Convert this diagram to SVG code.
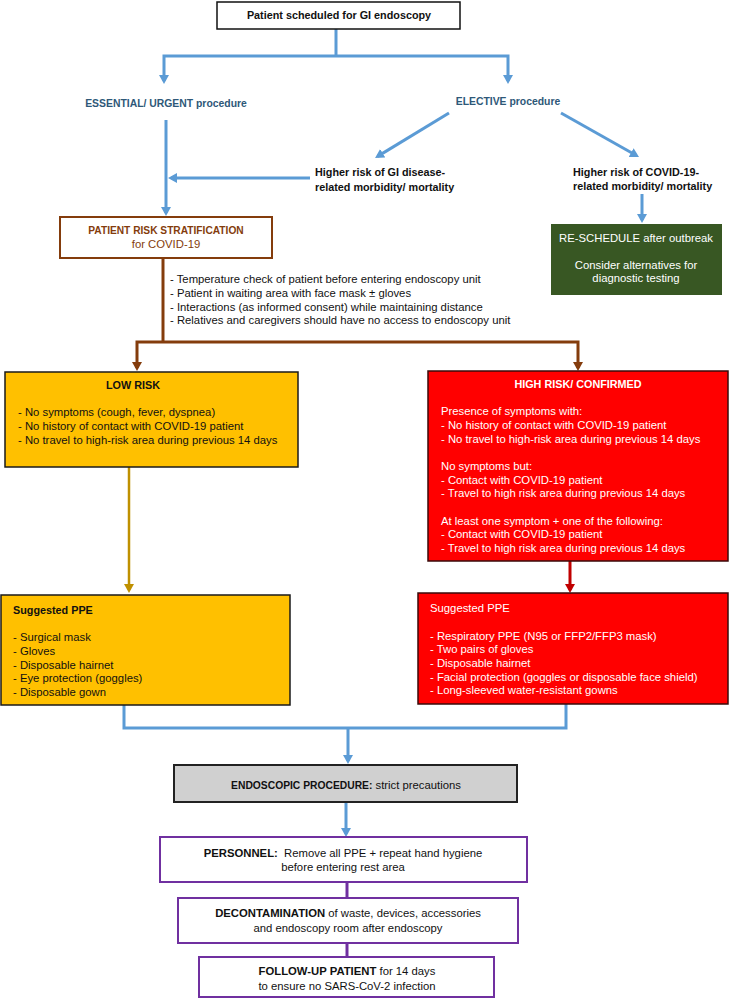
<svg xmlns="http://www.w3.org/2000/svg" width="732" height="999" viewBox="0 0 732 999">
<style>
text{font-family:"Liberation Sans",Arial,sans-serif;font-size:11.3px;fill:#111}
.b{font-weight:bold}
.c{text-anchor:middle}
.hb{font-size:10.8px;font-weight:bold}
.blue{fill:#2e5878;font-weight:bold;font-size:10.4px}
.brn{fill:#843c0c}
.w{fill:#fff}
.lb{fill:none;stroke:#5b9bd5;stroke-width:3}
.lbr{fill:none;stroke:#843c0c;stroke-width:3}
.lg{fill:none;stroke:#bf9000;stroke-width:2.5}
.lr{fill:none;stroke:#c00000;stroke-width:3}
.lp{fill:none;stroke:#7030a0;stroke-width:3}
</style>
<defs>
<marker id="ab" viewBox="0 0 9 10" refX="6" refY="5" markerWidth="9" markerHeight="10" markerUnits="userSpaceOnUse" orient="auto-start-reverse"><path d="M0,0 L9,5 L0,10 z" fill="#5b9bd5"/></marker>
<marker id="abr" viewBox="0 0 9 10" refX="6" refY="5" markerWidth="9" markerHeight="10" markerUnits="userSpaceOnUse" orient="auto-start-reverse"><path d="M0,0 L9,5 L0,10 z" fill="#843c0c"/></marker>
<marker id="ag" viewBox="0 0 9 10" refX="6" refY="5" markerWidth="9" markerHeight="10" markerUnits="userSpaceOnUse" orient="auto"><path d="M0,0 L9,5 L0,10 z" fill="#bf9000"/></marker>
<marker id="ar" viewBox="0 0 9 10" refX="6" refY="5" markerWidth="9" markerHeight="10" markerUnits="userSpaceOnUse" orient="auto"><path d="M0,0 L9,5 L0,10 z" fill="#c00000"/></marker>
</defs>
<rect width="732" height="999" fill="#fff"/>

<g id="connectors">
<path class="lb" d="M336,29 V56"/>
<path class="lb" d="M164,81 V56 H508 V81" marker-start="url(#ab)" marker-end="url(#ab)"/>
<path class="lb" d="M449,113 L377.6,156.4" marker-end="url(#ab)"/>
<path class="lb" d="M561,113 L636.4,155.5" marker-end="url(#ab)"/>
<path class="lb" d="M166,120 V213" marker-end="url(#ab)"/>
<path class="lb" d="M310,178 H171" marker-end="url(#ab)"/>
<path class="lb" d="M642,194 V220" marker-end="url(#ab)"/>
<path class="lbr" d="M163,258 V342"/>
<path class="lbr" d="M137,368 V342 H578 V368" marker-start="url(#abr)" marker-end="url(#abr)"/>
<path class="lg" d="M129,467 V590" marker-end="url(#ag)"/>
<path class="lr" d="M570,561 V590" marker-end="url(#ar)"/>
<path class="lb" d="M124,705 V728 H566 V704"/>
<path class="lb" d="M348,728 V761" marker-end="url(#ab)"/>
<path class="lb" d="M346,802 V834" marker-end="url(#ab)"/>
<path class="lp" d="M347,882 V898"/>
<path class="lp" d="M347,943 V957"/>
</g>

<g id="start">
<rect x="217" y="2" width="243" height="27" fill="#fff" stroke="#111" stroke-width="1.5"/>
<text class="hb c" x="339" y="19">Patient scheduled for GI endoscopy</text>
</g>

<g id="essential">
<text class="blue c" x="166" y="107">ESSENTIAL/ URGENT procedure</text>
</g>

<g id="elective">
<text class="blue c" x="508" y="105">ELECTIVE procedure</text>
</g>

<g id="gi-risk">
<text class="hb" x="315" y="176">Higher risk of GI disease-</text>
<text class="hb" x="315" y="191">related morbidity/ mortality</text>
</g>

<g id="covid-risk">
<text class="hb" x="573" y="176">Higher risk of COVID-19-</text>
<text class="hb" x="573" y="190">related morbidity/ mortality</text>
</g>

<g id="reschedule">
<rect x="551" y="224" width="171" height="71" fill="#385723"/>
<text class="w c" x="636" y="242">RE-SCHEDULE after outbreak</text>
<text class="w c" x="636" y="269">Consider alternatives for</text>
<text class="w c" x="636" y="282">diagnostic testing</text>
</g>

<g id="stratification">
<rect x="60" y="217" width="212" height="41" fill="#fff" stroke="#843c0c" stroke-width="2"/>
<text class="brn b c" x="166" y="234" style="font-size:10.2px">PATIENT RISK STRATIFICATION</text>
<text class="brn c" x="166" y="248">for COVID-19</text>
</g>

<g id="measures">
<text x="170" y="283">- Temperature check of patient before entering endoscopy unit</text>
<text x="170" y="297">- Patient in waiting area with face mask ± gloves</text>
<text x="170" y="311">- Interactions (as informed consent) while maintaining distance</text>
<text x="170" y="324">- Relatives and caregivers should have no access to endoscopy unit</text>
</g>

<g id="low-risk">
<rect x="5" y="372" width="293" height="95" fill="#ffc000" stroke="#1a1a1a" stroke-width="1.5"/>
<text class="hb c" x="133" y="389">LOW RISK</text>
<text x="18" y="416">- No symptoms (cough, fever, dyspnea)</text>
<text x="18" y="430">- No history of contact with COVID-19 patient</text>
<text x="18" y="444">- No travel to high-risk area during previous 14 days</text>
</g>

<g id="high-risk">
<rect x="428" y="371" width="300" height="190" fill="#ff0000" stroke="#3a0a0a" stroke-width="1.5"/>
<text class="hb c w" x="578" y="388">HIGH RISK/ CONFIRMED</text>
<text class="w" x="441" y="415">Presence of symptoms with:</text>
<text class="w" x="441" y="429">- No history of contact with COVID-19 patient</text>
<text class="w" x="441" y="443">- No travel to high-risk area during previous 14 days</text>
<text class="w" x="441" y="470">No symptoms but:</text>
<text class="w" x="441" y="484">- Contact with COVID-19 patient</text>
<text class="w" x="441" y="497">- Travel to high risk area during previous 14 days</text>
<text class="w" x="441" y="525">At least one symptom + one of the following:</text>
<text class="w" x="441" y="538">- Contact with COVID-19 patient</text>
<text class="w" x="441" y="552">- Travel to high risk area during previous 14 days</text>
</g>

<g id="low-ppe">
<rect x="1" y="595" width="289" height="110" fill="#ffc000" stroke="#1a1a1a" stroke-width="1.5"/>
<text class="hb" x="13" y="614">Suggested PPE</text>
<text x="13" y="641">- Surgical mask</text>
<text x="13" y="655">- Gloves</text>
<text x="13" y="669">- Disposable hairnet</text>
<text x="13" y="682">- Eye protection (goggles)</text>
<text x="13" y="696">- Disposable gown</text>
</g>

<g id="high-ppe">
<rect x="418" y="593" width="310" height="111" fill="#ff0000" stroke="#3a0a0a" stroke-width="1.5"/>
<text class="w" x="430" y="612">Suggested PPE</text>
<text class="w" x="430" y="640">- Respiratory PPE (N95 or FFP2/FFP3 mask)</text>
<text class="w" x="430" y="653">- Two pairs of gloves</text>
<text class="w" x="430" y="667">- Disposable hairnet</text>
<text class="w" x="430" y="681">- Facial protection (goggles or disposable face shield)</text>
<text class="w" x="430" y="694">- Long-sleeved water-resistant gowns</text>
</g>

<g id="endoscopic">
<rect x="174" y="765" width="343" height="37" fill="#d0d0d0" stroke="#222" stroke-width="2"/>
<text class="c" x="346" y="789"><tspan class="b" style="font-size:10.3px">ENDOSCOPIC PROCEDURE:</tspan> strict precautions</text>
</g>

<g id="personnel">
<rect x="160" y="837" width="367" height="45" fill="#fff" stroke="#7030a0" stroke-width="2"/>
<text class="c" x="343" y="857" style="white-space:pre"><tspan class="b">PERSONNEL:</tspan>  Remove all PPE + repeat hand hygiene</text>
<text class="c" x="343" y="871">before entering rest area</text>
</g>

<g id="decontamination">
<rect x="178" y="898" width="340" height="45" fill="#fff" stroke="#7030a0" stroke-width="2"/>
<text class="c" x="348" y="917"><tspan class="b">DECONTAMINATION</tspan> of waste, devices, accessories</text>
<text class="c" x="348" y="932">and endoscopy room after endoscopy</text>
</g>

<g id="follow-up">
<rect x="199" y="957" width="295" height="40" fill="#fff" stroke="#7030a0" stroke-width="2"/>
<text class="c" x="347" y="975"><tspan class="b">FOLLOW-UP PATIENT</tspan> for 14 days</text>
<text class="c" x="347" y="990">to ensure no SARS-CoV-2 infection</text>
</g>
</svg>
